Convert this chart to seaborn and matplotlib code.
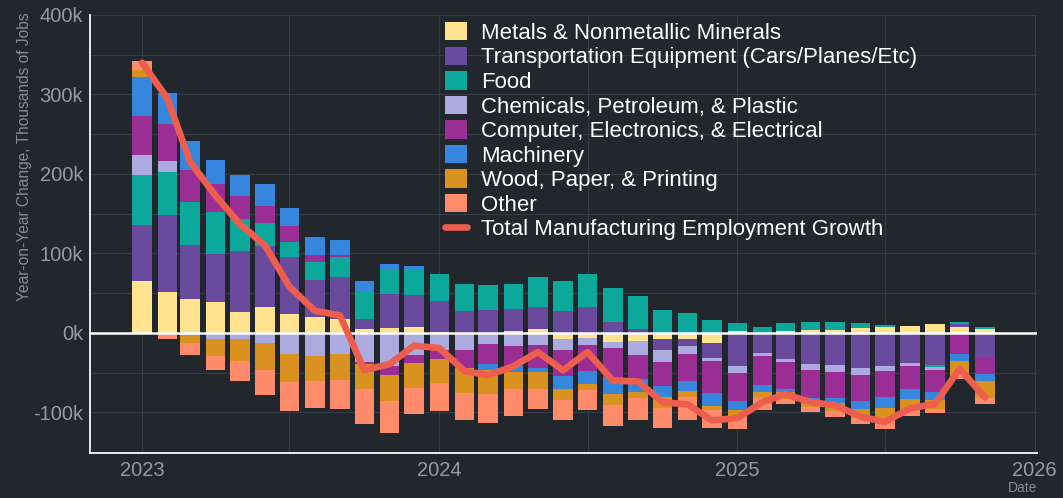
import numpy as np
import pandas as pd
import matplotlib.pyplot as plt
import matplotlib.dates as mdates
from matplotlib.ticker import MultipleLocator, FuncFormatter
from matplotlib.patches import Patch
from matplotlib.lines import Line2D
import seaborn as sns

# monthly year-on-year change, thousands of jobs (Jan 2023 - Nov 2025)
months = pd.date_range("2023-01-01", "2025-11-01", freq="MS")

metals = [66, 52, 43, 39, 27, 33, 24, 20, 18, 5, 6, 7, 1, 0, 0, 2, 5, -7, -6, -11,
          -10, -8, -7, -13, 2, 0, 2, 4, 4, 6, 7, 9, 11, 8, 5]
transport = [70, 96, 68, 60, 76, 77, 71, 47, 53, 13, 43, 41, 39, 28, 29, 28, 28, 28, 33, 14,
             5, -14, -9, -18, -42, -25, -33, -39, -40, -44, -41, -38, -40, 3, -32]
food = [63, 55, 54, 53, 40, 28, 20, 22, 24, 33, 30, 33, 34, 33, 31, 32, 38, 37, 41, 43,
        42, 29, 25, 16, 11, 7, 11, 10, 10, 6, 3, 0, -3, 3, 2]
chemicals = [25, 13, -2, -7, -8, -13, -26, -29, -26, -36, -42, -28, -21, -22, -14, -16, -15, -15, -9, -8,
             -18, -14, -11, -4, -8, -4, -4, -7, -9, -9, -7, -4, -4, 0, 0]
computer = [49, 47, 40, 35, 29, 22, 20, 9, 3, -3, -11, -10, -12, -22, -25, -26, -29, -32, -33, -37,
            -30, -31, -33, -40, -36, -36, -33, -36, -33, -33, -32, -29, -27, -26, -19]
machinery = [49, 39, 37, 31, 27, 27, 22, 23, 19, 15, 8, 3, 0, 0, -7, -7, -5, -17, -16, -21,
             -16, -14, -13, -17, -11, -9, -4, -6, -6, -10, -14, -12, -10, -9, -10]
wood = [9, 0, -11, -22, -27, -33, -36, -32, -33, -32, -33, -31, -30, -31, -31, -21, -21, -13, -8, -13,
        -8, -13, -8, -5, -6, -8, -9, -5, -10, -11, -16, -14, -12, -18, -21]
other = [11, -8, -15, -17, -26, -32, -36, -34, -37, -44, -40, -33, -35, -35, -36, -35, -26, -26, -25, -27,
         -28, -25, -29, -23, -18, -15, -6, -7, -8, -7, -11, -7, -5, -5, -7]
total = [340, 295, 215, 173, 137, 110, 58, 28, 22, -47, -39, -16, -19, -48, -53, -42, -24, -47, -24, -60,
         -61, -87, -90, -110, -107, -87, -77, -87, -91, -105, -112, -95, -89, -45, -81]

labels = ["Metals & Nonmetallic Minerals",
          "Transportation Equipment (Cars/Planes/Etc)",
          "Food",
          "Chemicals, Petroleum, & Plastic",
          "Computer, Electronics, & Electrical",
          "Machinery",
          "Wood, Paper, & Printing",
          "Other"]
series = [metals, transport, food, chemicals, computer, machinery, wood, other]
colors = ["#FFE38F", "#6A4A9C", "#0BA89B", "#ABABDF", "#9A2E95", "#3586DC", "#D9921F", "#FF8B6A"]
line_color = "#EE5E4E"
bg = "#22272E"

sns.set_theme(style="dark", rc={
    "figure.facecolor": bg,
    "axes.facecolor": bg,
    "axes.edgecolor": "#E8E8E8",
    "grid.color": "#363C45",
    "text.color": "#9A9A9A",
    "xtick.color": "#9A9A9A",
    "ytick.color": "#9A9A9A",
})
plt.rcParams["font.family"] = ["Liberation Sans", "DejaVu Sans"]

fig = plt.figure(figsize=(10.63, 4.98), dpi=100)
ax = fig.add_axes([90 / 1063, 45 / 498, 947 / 1063, 438 / 498])

pos_base = np.zeros(len(months))
neg_base = np.zeros(len(months))
for vals, col in zip(series, colors):
    v = np.array(vals, dtype=float)
    pos = np.where(v > 0, v, 0)
    neg = np.where(v < 0, v, 0)
    ax.bar(months, pos, width=24, bottom=pos_base, color=col, linewidth=0, zorder=2)
    ax.bar(months, neg, width=24, bottom=neg_base, color=col, linewidth=0, zorder=2)
    pos_base += pos
    neg_base += neg

ax.axhline(0, color="white", linewidth=1.8, zorder=3)

sns.lineplot(x=months, y=total, ax=ax, color=line_color, linewidth=4.8,
             solid_joinstyle="round", solid_capstyle="round", zorder=4)

ax.set_xlim(pd.Timestamp("2022-10-29"), pd.Timestamp("2026-01-04"))
ax.set_ylim(-151, 400)
ax.yaxis.set_major_locator(MultipleLocator(100))
ax.yaxis.set_minor_locator(MultipleLocator(50))
ax.yaxis.set_major_formatter(FuncFormatter(lambda v, p: f"{int(v)}k"))
ax.xaxis.set_major_locator(mdates.YearLocator())
ax.xaxis.set_minor_locator(mdates.MonthLocator(bymonth=7))
ax.xaxis.set_major_formatter(mdates.DateFormatter("%Y"))
ax.grid(which="both", color="#363C45", linewidth=0.8, zorder=0)
ax.set_axisbelow(True)
ax.tick_params(which="both", length=0, labelsize=14.5)
ax.tick_params(axis="y", pad=5)
ax.tick_params(axis="x", pad=6)

for s in ["top", "right"]:
    ax.spines[s].set_visible(False)
for s in ["left", "bottom"]:
    ax.spines[s].set_color("#E8E8E8")
    ax.spines[s].set_linewidth(1.4)

ax.set_xlabel("")
ax.set_ylabel("Year-on-Year Change, Thousands of Jobs", fontsize=11.2, color="#8A8A8A")
ax.yaxis.set_label_coords(-0.061, 0.676)
fig.text(1037 / 1063, 1 - 488 / 498, "Date", ha="right", va="center", fontsize=10, color="#8A8A8A")

handles = [Patch(facecolor=c, edgecolor="none") for c in colors]
handles.append(Line2D([0], [0], color=line_color, linewidth=4.8))
leg = ax.legend(handles, labels + ["Total Manufacturing Employment Growth"],
                loc="upper left", bbox_to_anchor=(0.375, 0.984), frameon=False,
                fontsize=16, borderpad=0, borderaxespad=0, handlelength=1.0,
                handleheight=0.9, handletextpad=0.6, labelspacing=0.12)
for t in leg.get_texts():
    t.set_color("white")

fig.savefig("out.png", dpi=100, facecolor=bg)
